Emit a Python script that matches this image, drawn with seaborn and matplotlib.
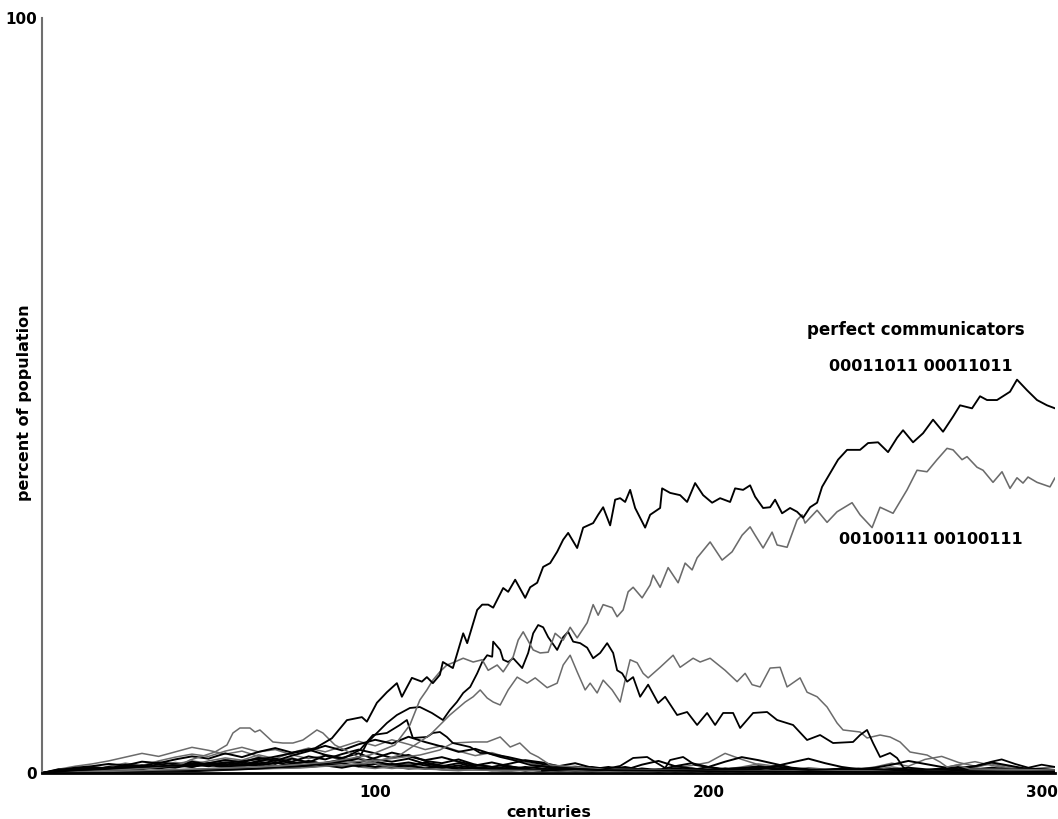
import matplotlib
matplotlib.use("Agg")
import matplotlib.pyplot as plt
import seaborn as sns

sns.set_style("white")
plt.rcParams["font.family"] = ["DejaVu Sans"]
plt.rcParams["text.color"] = "black"
plt.rcParams["axes.labelcolor"] = "black"
plt.rcParams["xtick.color"] = "black"
plt.rcParams["ytick.color"] = "black"

BLACK = "#000000"
GREY = "#6b6b6b"

# ---- data: (century, percent of population) ----
comm_00011011 = [
    (0, 0), (11, 0.4), (23, 0.7), (35, 0.9), (47, 1.1), (59, 1.5), (68, 2.0), (77, 2.8),
    (82, 3.3), (87, 4.6), (91.5, 7.0), (96, 7.4), (97.5, 6.8), (100.5, 9.3), (103.5, 10.7),
    (106.5, 11.9), (108, 10.1), (111, 12.6), (114, 12.1), (115.5, 12.7), (117.3, 11.9),
    (119.4, 13.0), (120.3, 14.7), (123.3, 13.9), (126.4, 18.5), (127.6, 17.2), (130.6, 21.6),
    (132.1, 22.3), (133.9, 22.3), (135.4, 21.9), (138.4, 24.5), (139.9, 24.0), (142, 25.6),
    (145, 23.2), (146.5, 24.6), (148.6, 25.2), (150.4, 27.3), (152.5, 27.8), (154.6, 29.3),
    (156.4, 30.9), (157.9, 31.8), (160.6, 29.8), (162.4, 32.5), (165.4, 33.1), (166.9, 34.2),
    (168.4, 35.2), (170.5, 32.8), (172, 36.2), (173.5, 36.4), (175, 35.9), (176.5, 37.5),
    (178, 35.1), (181, 32.5), (182.5, 34.2), (185.5, 35.1), (186.1, 37.7), (188.5, 37.1),
    (191.5, 36.8), (193.6, 35.9), (196, 38.4), (198.4, 36.8), (201.1, 35.8), (203.5, 36.4),
    (206.5, 35.9), (208, 37.7), (210.4, 37.5), (212.5, 38.1), (214, 36.6), (216.4, 35.1),
    (218.5, 35.2), (220, 36.2), (222.1, 34.4), (224.5, 35.1), (226.6, 34.6), (228.4, 33.8),
    (230.5, 35.2), (232.6, 35.8), (234.1, 37.9), (236.5, 39.7), (238.9, 41.5), (241.6, 42.8),
    (245.5, 42.8), (247.9, 43.7), (250.9, 43.8), (253.9, 42.5), (256.6, 44.4), (258.4, 45.4),
    (261.4, 43.8), (264.4, 45.0), (267.4, 46.8), (270.4, 45.2), (273.4, 47.2), (275.5, 48.7),
    (279.1, 48.3), (281.5, 49.9), (283.6, 49.4), (286.6, 49.4), (290.5, 50.5), (292.6, 52.1),
    (295.6, 50.7), (298.6, 49.4), (301.6, 48.7), (304, 48.3),
]

comm_00100111 = [
    (0, 0), (23.4, 0.26), (47.4, 0.53), (71.4, 0.93), (86.4, 1.46), (98.4, 2.38), (105.9, 3.71),
    (110.4, 6.36), (113.4, 9.67), (115.5, 11.0), (117.3, 12.3), (119.4, 13.4), (121.5, 14.3),
    (123.3, 14.6), (126.4, 15.2), (129.4, 14.7), (132.1, 15.0), (133.9, 13.6), (136.6, 14.3),
    (138.4, 13.4), (141.4, 15.4), (142.9, 17.6), (144.4, 18.7), (147.4, 16.3), (149.5, 15.9),
    (151.9, 16.0), (154.0, 18.5), (156.4, 17.6), (158.5, 19.3), (160.6, 17.9), (163.6, 19.9),
    (165.4, 22.3), (166.9, 20.9), (168.4, 22.3), (171.1, 21.9), (172.6, 20.7), (174.4, 21.6),
    (175.9, 24.0), (177.4, 24.6), (180.1, 23.2), (182.5, 24.9), (183.4, 26.2), (185.5, 24.6),
    (187.9, 27.2), (190.9, 25.2), (193.0, 27.8), (195.1, 26.9), (196.6, 28.5), (200.5, 30.6),
    (204.1, 28.2), (207.1, 29.3), (210.1, 31.5), (212.5, 32.6), (214.0, 31.5), (216.4, 29.8),
    (219.1, 31.9), (220.6, 30.2), (223.6, 29.9), (226.6, 33.5), (228.1, 34.2), (229.0, 33.1),
    (232.6, 34.8), (235.6, 33.2), (238.6, 34.6), (243.1, 35.8), (245.5, 34.2), (249.1, 32.5),
    (251.5, 35.2), (255.4, 34.4), (259.6, 37.5), (262.6, 40.1), (265.6, 39.9), (268.6, 41.5),
    (271.6, 43.0), (273.4, 42.8), (276.1, 41.5), (277.6, 41.9), (280.6, 40.5), (282.4, 40.1),
    (285.4, 38.5), (288.1, 39.9), (290.5, 37.7), (292.6, 39.1), (294.4, 38.4), (295.9, 39.2),
    (298.6, 38.5), (302.5, 37.9), (304.0, 39.1),
]

strain_black_peak150 = [
    (0, 0), (32.4, 0.26), (62.4, 0.53), (77.4, 0.93), (89.4, 1.46), (95.4, 2.12), (97.5, 3.97),
    (100.5, 5.30), (103.5, 6.62), (106.5, 7.68), (110.4, 8.61), (113.4, 8.74), (117.0, 7.95),
    (120.3, 7.02), (122.4, 8.34), (124.5, 9.40), (126.4, 10.6), (128.5, 11.4), (130.6, 13.2),
    (132.1, 14.7), (133.6, 15.6), (135.1, 15.4), (135.4, 17.4), (137.5, 16.3), (138.4, 15.0),
    (139.9, 14.7), (141.4, 15.2), (144.1, 13.9), (145.9, 15.9), (147.4, 18.5), (148.9, 19.6),
    (150.4, 19.3), (151.9, 18.0), (154.6, 16.3), (156.4, 18.0), (157.9, 18.7), (159.4, 17.4),
    (161.5, 17.2), (163.6, 16.6), (165.4, 15.2), (167.5, 15.9), (169.6, 17.2), (171.4, 15.9),
    (172.6, 13.6), (174.1, 13.2), (175.6, 12.1), (177.4, 12.7), (179.5, 10.1), (181.9, 11.7),
    (184.9, 9.27), (187.0, 10.1), (190.6, 7.68), (193.6, 8.08), (196.6, 6.36), (199.6, 7.95),
    (202.0, 6.36), (204.4, 7.95), (207.4, 7.95), (209.5, 5.96), (213.4, 7.95), (217.6, 8.08),
    (220.6, 7.02), (225.4, 6.36), (229.6, 4.37), (233.5, 5.03), (237.4, 3.97), (243.4, 4.11),
    (245.5, 5.03), (247.6, 5.70), (249.4, 3.97), (251.5, 2.12), (254.5, 2.65), (256.6, 1.99),
    (258.4, 0.79), (260.5, 0.13), (275, 0.3), (290, 0.1), (304, 0.2),
]

strain_grey_plateau200 = [
    (0, 0), (47.4, 0.4), (77.4, 0.66), (98.4, 1.32), (107.4, 2.38), (116.4, 5.03), (122.4, 7.68),
    (127.0, 9.40), (129.4, 10.1), (131.5, 11.0), (133.6, 9.93), (135.4, 9.40), (137.5, 9.01),
    (139.9, 11.0), (142.6, 12.7), (145.6, 11.9), (148.0, 12.6), (151.6, 11.3), (154.6, 11.9),
    (156.4, 14.3), (158.5, 15.6), (160.6, 13.4), (163.0, 11.0), (164.5, 11.9), (166.6, 10.6),
    (168.4, 12.3), (171.1, 11.0), (173.5, 9.40), (175.0, 12.3), (176.5, 15.0), (178.6, 14.6),
    (180.4, 13.2), (181.9, 12.6), (185.5, 14.0), (189.4, 15.6), (191.5, 14.0), (195.4, 15.2),
    (197.5, 14.7), (200.5, 15.2), (205.0, 13.6), (208.6, 12.1), (211.0, 13.2), (213.1, 11.7),
    (215.5, 11.4), (218.5, 13.9), (221.5, 14.0), (223.6, 11.4), (227.5, 12.6), (229.6, 10.7),
    (232.6, 10.1), (235.6, 8.74), (238.6, 6.62), (240.4, 5.70), (245.5, 5.43), (247.6, 4.64),
    (251.5, 5.03), (254.5, 4.77), (257.5, 4.11), (260.5, 2.78), (265.6, 2.38), (269.5, 1.46),
    (271.6, 0.79), (274.6, 1.06), (278.5, 0.53), (304, 0.4),
]

strain_black_bump105 = [
    (0, 0), (47.4, 0.26), (77.4, 0.79), (89.4, 1.72), (95.4, 3.05), (99.3, 5.03), (103.5, 5.30),
    (107.4, 6.36), (109.5, 7.02), (111.3, 4.64), (115.5, 4.77), (117.3, 5.30), (119.4, 5.43),
    (121.5, 4.77), (123.3, 3.97), (128.5, 3.44), (131.5, 2.65), (133.6, 2.65), (137.5, 2.12),
    (141.4, 1.72), (146.5, 1.06), (155.5, 0.66), (167.5, 0.40), (197.5, 0.26), (230, 0.15),
    (304, 0.1),
]

strain_grey_bump135 = [
    (0, 0), (40, 0.4), (77.4, 1.06), (101.4, 1.72), (113.4, 2.38), (119.4, 3.05), (123.3, 3.97),
    (129.4, 4.11), (133.6, 4.11), (137.5, 4.77), (140.5, 3.44), (143.4, 3.97), (146.5, 2.65),
    (148.9, 2.12), (152.5, 1.06), (167.5, 0.53), (200, 0.3), (304, 0.2),
]

strain_grey_bump60 = [
    (0, 0), (17.4, 0.26), (32.4, 0.66), (41.4, 1.06), (44.4, 1.72), (47.4, 2.12), (51.9, 2.78),
    (55.5, 3.71), (57.3, 5.30), (59.4, 5.96), (62.4, 5.96), (63.9, 5.43), (65.4, 5.70),
    (69.3, 4.11), (72.3, 3.97), (75.3, 3.97), (78.3, 4.37), (80.4, 5.03), (82.5, 5.70),
    (84.3, 5.30), (85.5, 4.77), (87.9, 3.71), (90.9, 3.05), (95.4, 1.99), (101.4, 1.06),
    (107.4, 0.66), (122.4, 0.40), (167.5, 0.26), (304, 0.2),
]

strain_black_late = [
    (150, 0.3), (160, 0.5), (167.5, 0.4), (173.5, 0.93), (177.4, 1.99), (181.6, 2.12), (184, 1.46),
    (187, 0.66), (188.5, 1.72), (192.4, 2.12), (196, 1.06), (203.5, 0.53), (215, 0.8), (230, 0.4),
    (245, 0.6), (260, 0.3), (270, 0.5), (280, 0.9), (285, 1.5), (288, 1.8), (292, 1.2),
    (296, 0.7), (300, 1.1), (304, 0.8),
]

# many minor strategies hovering near zero, sampled every 5 centuries
low_centuries = list(range(0, 300, 5)) + [304]
drift_1 = [0, 0.4, 0.7, 0.9, 1.2, 1.0, 1.5, 1.3, 1.8, 2.2,
           1.9, 2.6, 2.1, 2.8, 3.3, 2.7, 3.1, 2.4, 2.0, 2.6,
           1.8, 1.5, 1.9, 1.2, 0.9, 1.3, 0.8, 0.6, 0.9, 0.5,
           0.4, 0.7, 0.3, 0.5, 0.8, 0.4, 1.1, 1.6, 0.9, 0.6,
           0.4, 0.3, 0.6, 0.9, 0.5, 0.3, 0.2, 0.4, 0.3, 0.2,
           0.5, 0.3, 0.2, 0.4, 0.6, 0.3, 0.2, 0.4, 0.3, 0.2, 0.3]
drift_2 = [0, 0.2, 0.5, 0.8, 0.6, 1.1, 0.9, 1.4, 1.2, 0.8,
           1.3, 1.7, 1.4, 2.0, 1.6, 2.3, 2.9, 3.6, 3.0, 3.8,
           4.4, 3.9, 4.8, 4.1, 3.5, 2.8, 3.2, 2.5, 2.1, 1.6,
           1.2, 0.9, 1.3, 0.7, 0.5, 0.8, 0.4, 0.3, 0.6, 0.4,
           0.8, 1.5, 2.1, 1.7, 1.2, 0.7, 0.5, 0.3, 0.6, 0.4,
           0.2, 0.4, 0.7, 0.5, 0.3, 0.2, 0.4, 0.6, 0.3, 0.2, 0.3]
drift_3 = [0, 0.3, 0.6, 0.4, 0.9, 1.3, 1.0, 1.6, 2.1, 2.5,
           2.2, 2.9, 3.4, 2.8, 3.1, 2.4, 1.9, 2.3, 1.7, 1.2,
           1.5, 0.9, 1.2, 0.7, 0.5, 0.8, 0.6, 0.3, 0.5, 0.4,
           0.2, 0.4, 0.3, 0.6, 0.4, 0.2, 0.5, 0.3, 0.7, 1.0,
           1.4, 2.6, 1.8, 1.1, 0.6, 0.4, 0.7, 0.5, 0.3, 0.5,
           0.8, 1.3, 0.9, 1.8, 2.2, 1.4, 0.9, 1.2, 0.7, 0.5, 0.8]
drift_4 = [0, 0.1, 0.3, 0.2, 0.5, 0.4, 0.7, 0.6, 0.9, 1.3,
           1.0, 1.4, 1.1, 1.6, 1.9, 1.5, 2.2, 1.8, 2.5, 3.1,
           2.6, 2.0, 2.4, 1.6, 1.3, 1.8, 1.1, 0.8, 1.2, 1.7,
           1.4, 0.9, 0.6, 0.8, 0.5, 0.3, 0.6, 0.4, 0.9, 1.3,
           0.8, 0.5, 0.3, 0.6, 0.9, 1.4, 1.9, 1.3, 0.8, 0.5,
           0.3, 0.5, 0.4, 0.2, 0.5, 0.8, 0.5, 0.3, 0.4, 0.6, 0.4]
drift_5 = [0, 0.2, 0.2, 0.4, 0.3, 0.6, 0.5, 0.8, 0.7, 1.1,
           0.9, 1.2, 0.8, 1.5, 1.2, 1.9, 1.4, 2.3, 1.9, 1.4,
           2.0, 2.7, 2.2, 1.7, 2.1, 1.5, 1.0, 1.4, 0.9, 0.6,
           0.9, 0.5, 0.3, 0.5, 0.4, 0.2, 0.3, 0.5, 0.3, 0.2,
           0.4, 0.6, 0.3, 0.5, 0.9, 0.6, 0.4, 0.2, 0.3, 0.5,
           0.7, 1.1, 1.6, 1.2, 0.8, 0.5, 0.9, 1.4, 1.0, 0.6, 0.4]
drift_6 = [0, 0.5, 0.9, 1.2, 1.6, 2.1, 2.6, 2.2, 2.8, 3.4,
           3.0, 2.5, 2.9, 2.2, 1.6, 2.0, 1.4, 1.0, 1.3, 0.8,
           0.6, 0.9, 0.5, 0.7, 0.4, 0.3, 0.5, 0.3, 0.2, 0.4,
           0.3, 0.2, 0.4, 0.3, 0.2, 0.3, 0.2, 0.4, 0.3, 0.2,
           0.3, 0.5, 0.4, 0.2, 0.3, 0.5, 0.3, 0.2, 0.4, 0.3,
           0.5, 0.8, 0.5, 0.3, 0.6, 1.1, 1.5, 1.0, 0.6, 0.4, 0.3]
drift_7 = [0, 0.3, 0.4, 0.6, 0.5, 0.7, 0.9, 0.7, 1.0, 0.8,
           1.2, 1.0, 1.4, 1.1, 1.7, 1.3, 1.5, 1.2, 1.6, 1.9,
           1.5, 1.1, 1.4, 1.0, 0.7, 1.0, 0.6, 0.4, 0.7, 0.5,
           0.3, 0.5, 0.8, 0.6, 0.4, 0.6, 0.3, 0.2, 0.4, 0.6,
           0.3, 0.2, 0.4, 0.7, 0.5, 0.3, 0.2, 0.4, 0.6, 0.4,
           0.3, 0.5, 0.3, 0.2, 0.4, 0.3, 0.5, 0.7, 0.5, 0.3, 0.2]
drift_8 = [0, 0.2, 0.4, 0.3, 0.6, 0.8, 0.6, 1.0, 1.4, 1.1,
           1.6, 2.0, 1.7, 2.4, 1.9, 2.7, 3.3, 2.8, 3.5, 4.2,
           3.6, 4.4, 3.8, 3.1, 3.6, 2.9, 2.3, 2.7, 2.0, 1.4,
           1.0, 0.7, 0.9, 0.5, 0.3, 0.5, 0.3, 0.2, 0.4, 0.3,
           0.2, 0.3, 0.5, 0.3, 0.2, 0.4, 0.3, 0.2, 0.3, 0.2,
           0.4, 0.3, 0.2, 0.3, 0.5, 0.3, 0.2, 0.4, 0.3, 0.2, 0.3]
drift_9 = [0, 0.3, 0.6, 0.4, 0.8, 0.6, 1.0, 0.7, 1.1, 0.9,
           1.3, 0.8, 1.2, 0.9, 1.4, 1.0, 1.6, 1.1, 1.3, 0.9,
           1.2, 0.8, 1.0, 0.6, 0.9, 0.5, 0.7, 0.4, 0.6, 0.3,
           0.5, 0.3, 0.4, 0.2, 0.4, 0.3, 0.5, 0.2, 0.3, 0.4,
           0.2, 0.3, 0.5, 0.3, 0.2, 0.3, 0.4, 0.2, 0.3, 0.5,
           0.3, 0.2, 0.4, 0.3, 0.5, 0.4, 0.2, 0.3, 0.4, 0.2, 0.3]
drift_10 = [0, 0.5, 0.3, 0.7, 0.5, 0.9, 0.6, 1.2, 0.8, 1.5,
            1.1, 0.7, 1.0, 1.3, 0.9, 1.2, 0.8, 1.0, 0.7, 1.1,
            0.8, 1.2, 0.9, 1.4, 1.0, 0.7, 1.1, 0.8, 0.5, 0.8,
            0.6, 0.3, 0.5, 0.4, 0.7, 0.5, 0.3, 0.4, 0.2, 0.3,
            0.5, 0.3, 0.2, 0.4, 0.3, 0.6, 0.4, 0.3, 0.2, 0.4,
            0.3, 0.5, 0.3, 0.2, 0.3, 0.4, 0.3, 0.2, 0.4, 0.3, 0.2]
drift_11 = [0, 0.2, 0.4, 0.7, 0.5, 0.8, 1.1, 0.8, 1.2, 1.6,
            1.3, 1.8, 1.5, 2.1, 1.7, 1.3, 1.6, 1.2, 0.9, 1.1,
            0.8, 0.6, 0.8, 0.5, 0.7, 0.4, 0.6, 0.4, 0.3, 0.5,
            0.3, 0.4, 0.2, 0.3, 0.5, 0.7, 0.4, 0.3, 0.2, 0.4,
            0.3, 0.5, 0.8, 1.2, 0.9, 0.6, 0.4, 0.3, 0.5, 0.3,
            0.2, 0.4, 0.6, 0.4, 0.3, 0.5, 0.7, 1.3, 0.9, 0.5, 0.3]

x_ticks = [100, 200, 300]
x_tick_labels = ["100", "200", "300"]
y_ticks = [0, 100]
y_tick_labels = ["0", "100"]

# ---- figure ----
fig = plt.figure(figsize=(10.58, 8.19), dpi=100)
ax = fig.add_axes([42 / 1058, 46 / 819, 1013 / 1058, 755 / 819])


def draw(xs, ys, color, lw):
    sns.lineplot(x=xs, y=ys, ax=ax, color=color, linewidth=lw,
                 estimator=None, sort=False, legend=False)


# background drift of minor strategies
for series, col in [(drift_6, GREY), (drift_8, GREY), (drift_3, GREY), (drift_11, GREY),
                    (drift_1, BLACK), (drift_2, BLACK), (drift_4, BLACK),
                    (drift_5, BLACK), (drift_7, BLACK), (drift_9, BLACK), (drift_10, BLACK)]:
    draw(low_centuries, series, col, 1.1 if col == GREY else 1.4)

# mid-sized strategies that rise and die out
for pts, col in [(strain_grey_bump60, GREY), (strain_grey_bump135, GREY),
                 (strain_black_bump105, BLACK), (strain_black_late, BLACK),
                 (strain_grey_plateau200, GREY), (strain_black_peak150, BLACK)]:
    draw([p[0] for p in pts], [p[1] for p in pts], col, 1.1 if col == GREY else 1.3)

# the two perfect communicators
draw([p[0] for p in comm_00100111], [p[1] for p in comm_00100111], GREY, 1.15)
draw([p[0] for p in comm_00011011], [p[1] for p in comm_00011011], BLACK, 1.35)

ax.set_xlim(0, 304)
ax.set_ylim(0, 100)
ax.set_xticks(x_ticks)
ax.set_xticklabels(x_tick_labels)
ax.set_yticks(y_ticks)
ax.set_yticklabels(y_tick_labels)
ax.tick_params(axis="both", length=0, labelsize=11, labelcolor="black")
ax.tick_params(axis="x", pad=8.5)
ax.tick_params(axis="y", pad=3.6)
for lab in ax.get_xticklabels() + ax.get_yticklabels():
    lab.set_fontweight("bold")

for side in ("top", "right"):
    ax.spines[side].set_visible(False)
ax.spines["left"].set_color("#6f6f6f")
ax.spines["left"].set_linewidth(1.5)
ax.spines["bottom"].set_color(BLACK)
ax.spines["bottom"].set_linewidth(2)

ax.set_xlabel("centuries", fontsize=11.5, fontweight="bold", color="black")
ax.xaxis.set_label_coords(0.5, -0.042)
ax.set_ylabel("percent of population", fontsize=11.5, fontweight="bold", color="black")
ax.yaxis.set_label_coords(-0.0099, 0.49)

ax.text(262.3, 58.7, "perfect communicators", ha="center", va="center",
        fontsize=12, fontweight="bold", color="black")
ax.text(263.8, 53.8, "00011011 00011011", ha="center", va="center",
        fontsize=11.5, fontweight="bold", color="black")
ax.text(266.8, 30.9, "00100111 00100111", ha="center", va="center",
        fontsize=11.5, fontweight="bold", color="black")

fig.savefig("out.png", dpi=100)
